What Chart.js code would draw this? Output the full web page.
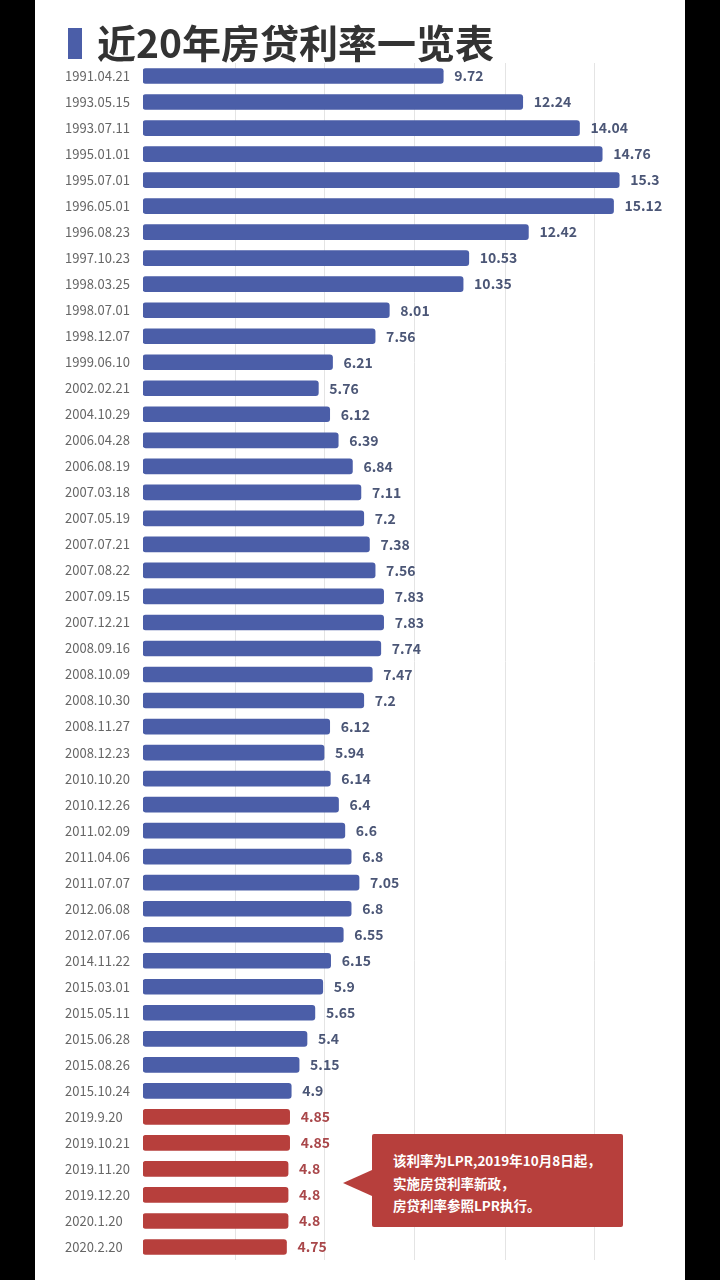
<!DOCTYPE html>
<html>
<head>
<meta charset="utf-8">
<script src="https://cdn.jsdelivr.net/npm/chart.js@4.4.1/dist/chart.umd.min.js"></script>
<style>
    html, body { margin: 0; padding: 0; width: 720px; height: 1280px; background: #000; overflow: hidden; }
    body { font-family: "Noto Sans CJK SC", sans-serif; }
    .panel { position: absolute; left: 35px; top: 0; width: 650px; height: 1280px; background: #fff; }
    #rateChart { position: absolute; left: 0; top: 0; }
    .title { position: absolute; left: 33px; top: 0; height: 70px; z-index: 2; }
    .title .mark { position: absolute; left: 0; top: 28px; width: 14px; height: 31px; background: #4b5ea8; }
    .title h1 { position: absolute; left: 29px; top: 16px; margin: 0; white-space: nowrap;
        font-size: 39px; line-height: 50px; font-weight: bold; color: #333; }
    .callout { position: absolute; left: 337px; top: 1134px; width: 251px; height: 93px; box-sizing: border-box;
        padding: 15px 0 0 21px; background: #b73f3c; border-radius: 2px; z-index: 2;
        color: #fff; font-size: 13.5px; font-weight: bold; line-height: 22.5px; white-space: nowrap; }
    .callout::before { content: ""; position: absolute; left: -29px; top: 36px;
        border-right: 29px solid #b73f3c; border-top: 13px solid transparent; border-bottom: 13px solid transparent; }
</style>
</head>
<body>
<div class="panel">
    <div class="title"><span class="mark"></span><h1>近20年房贷利率一览表</h1></div>
    <canvas id="rateChart" width="650" height="1280"></canvas>
    <div class="callout">该利率为LPR,2019年10月8日起，<br>实施房贷利率新政，<br>房贷利率参照LPR执行。</div>
</div>

<script>
// --- data ---
const dates = [
    '1991.04.21', '1993.05.15', '1993.07.11', '1995.01.01', '1995.07.01', '1996.05.01',
    '1996.08.23', '1997.10.23', '1998.03.25', '1998.07.01', '1998.12.07', '1999.06.10',
    '2002.02.21', '2004.10.29', '2006.04.28', '2006.08.19', '2007.03.18', '2007.05.19',
    '2007.07.21', '2007.08.22', '2007.09.15', '2007.12.21', '2008.09.16', '2008.10.09',
    '2008.10.30', '2008.11.27', '2008.12.23', '2010.10.20', '2010.12.26', '2011.02.09',
    '2011.04.06', '2011.07.07', '2012.06.08', '2012.07.06', '2014.11.22', '2015.03.01',
    '2015.05.11', '2015.06.28', '2015.08.26', '2015.10.24', '2019.9.20', '2019.10.21',
    '2019.11.20', '2019.12.20', '2020.1.20', '2020.2.20'
];
const rates = [
    9.72, 12.24, 14.04, 14.76, 15.3, 15.12,
    12.42, 10.53, 10.35, 8.01, 7.56, 6.21,
    5.76, 6.12, 6.39, 6.84, 7.11, 7.2,
    7.38, 7.56, 7.83, 7.83, 7.74, 7.47,
    7.2, 6.12, 5.94, 6.14, 6.4, 6.6,
    6.8, 7.05, 6.8, 6.55, 6.15, 5.9,
    5.65, 5.4, 5.15, 4.9, 4.85, 4.85,
    4.8, 4.8, 4.8, 4.75
];
const lprFirstDate = '2019.9.20';   // LPR rows from here on (red)
const gridValues = [3.12, 5.97, 8.82, 11.68, 14.53];
const axisMin = 0.2;
const axisMax = 16.91;

const BLUE = '#4b5ea8';
const RED = '#b73f3c';
const lprIndex = dates.indexOf(lprFirstDate);

// value text at the end of each bar
const valueLabels = {
    id: 'valueLabels',
    afterDatasetsDraw(chart) {
        const ctx = chart.ctx;
        const meta = chart.getDatasetMeta(0);
        ctx.save();
        ctx.font = 'bold 14px "Noto Sans CJK SC", sans-serif';
        ctx.textBaseline = 'middle';
        ctx.textAlign = 'left';
        meta.data.forEach((bar, i) => {
            ctx.fillStyle = i >= lprIndex ? '#a9474a' : '#4b5676';
            ctx.fillText(String(rates[i]), bar.x + 11, bar.y);
        });
        ctx.restore();
    }
};

new Chart(document.getElementById('rateChart'), {
    type: 'bar',
    data: {
        labels: dates,
        datasets: [{
            data: rates,
            base: axisMin,
            backgroundColor: rates.map((v, i) => i >= lprIndex ? RED : BLUE),
            borderRadius: 3,
            borderSkipped: false,
            barThickness: 15
        }]
    },
    options: {
        indexAxis: 'y',
        responsive: false,
        maintainAspectRatio: false,
        animation: false,
        devicePixelRatio: 1,
        layout: { padding: { left: 30, right: 15, top: 63, bottom: 20 } },
        plugins: {
            legend: { display: false },
            tooltip: { enabled: false }
        },
        scales: {
            x: {
                min: axisMin,
                max: axisMax,
                afterBuildTicks: (scale) => { scale.ticks = gridValues.map(v => ({ value: v })); },
                afterFit: (scale) => { scale.height = 0; },
                ticks: { display: false },
                grid: { color: '#e4e4e4', drawTicks: false },
                border: { display: false }
            },
            y: {
                afterFit: (scale) => { scale.width = 78; },
                ticks: {
                    crossAlign: 'far',
                    padding: 0,
                    color: '#666666',
                    font: { family: '"Noto Sans CJK SC", sans-serif', size: 13 }
                },
                grid: { display: false, drawTicks: false },
                border: { display: false }
            }
        }
    },
    plugins: [valueLabels]
});
</script>
</body>
</html>
